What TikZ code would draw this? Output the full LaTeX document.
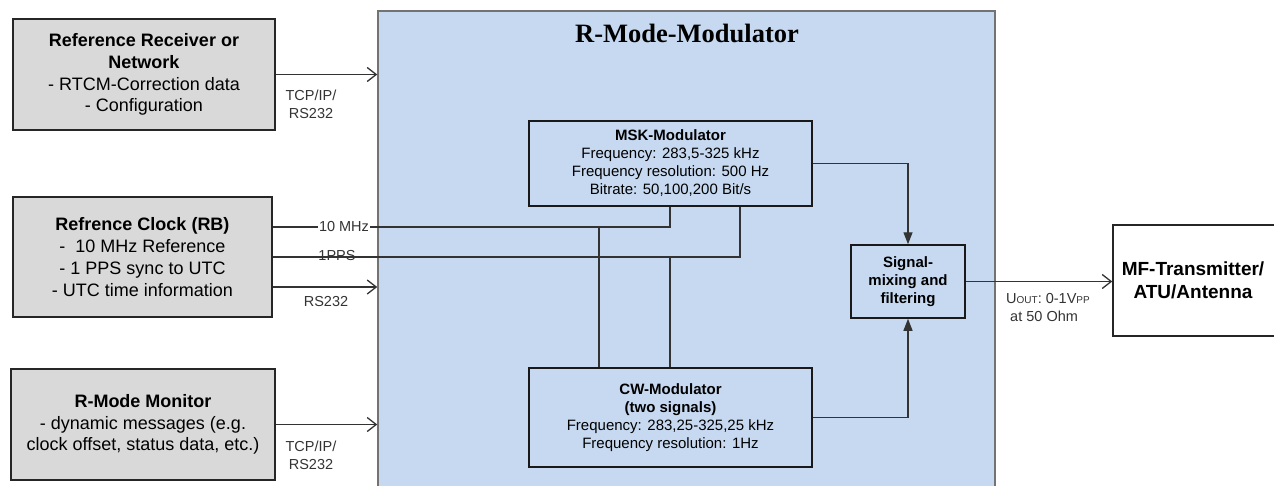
\documentclass[tikz,border=0pt]{standalone}
\usepackage{fontspec}
\setmainfont{Liberation Sans}
\newfontfamily\titlefont{Liberation Serif}
\usetikzlibrary{arrows.meta}
\definecolor{boxgray}{HTML}{D9D9D9}
\definecolor{modblue}{HTML}{C6D9F0}
\definecolor{linegray}{HTML}{333333}
\begin{document}
\begin{tikzpicture}[x=1pt,y=-1pt,
  big/.style={font=\fontsize{18}{21.8}\selectfont},
  mid/.style={font=\fontsize{15}{18}\selectfont},
  lab/.style={font=\fontsize{14.5}{18}\selectfont, text=black!80, align=center, inner sep=1pt},
  graybox/.style={draw=black!85, line width=1.5pt, fill=boxgray, align=center, big, inner sep=0pt},
  bluebox/.style={draw=black!90, line width=1.5pt, fill=modblue, align=center, mid, inner sep=0pt},
  conn/.style={draw=linegray, line width=1.3pt},
  openarrow/.style={conn, -{Straight Barb[length=9pt,width=14pt,line width=1.3pt]}},
  solidarrow/.style={conn, -{Triangle[length=12pt,width=9pt]}}
]
\useasboundingbox (0,0) rectangle (1274,485);

% main modulator area
\node[draw=black!55, line width=1.5pt, fill=modblue, minimum width=617pt, minimum height=509pt, inner sep=0pt] (mod) at (686.5,265.5) {};
\node[font=\titlefont\bfseries\fontsize{26.5}{30}\selectfont] (title) at (687,33) {R-Mode-Modulator};

% left boxes
\node[graybox, minimum width=262pt, minimum height=111pt] (recv) at (144,74.5)
  {\textbf{Reference Receiver or}\\\textbf{Network}\\- RTCM-Correction data\\- Configuration};
\node[graybox, minimum width=259pt, minimum height=120pt] (clock) at (142.5,257)
  {\textbf{Refrence Clock (RB)}\\-\ \ 10 MHz Reference\\- 1 PPS sync to UTC\\- UTC time information};
\node[graybox, minimum width=264pt, minimum height=111pt] (mon) at (143,424.5)
  {\textbf{R-Mode Monitor}\\- dynamic messages (e.g.\\clock offset, status data, etc.)};

% inner boxes
\node[bluebox, minimum width=283pt, minimum height=85pt] (msk) at (670.5,163.5)
  {\textbf{MSK-Modulator}\\Frequency: 283,5-325 kHz\\Frequency resolution: 500 Hz\\Bitrate: 50,100,200 Bit/s};
\node[bluebox, minimum width=283pt, minimum height=99pt] (cw) at (670.5,417.5)
  {\textbf{CW-Modulator}\\\textbf{(two signals)}\\Frequency: 283,25-325,25 kHz\\Frequency resolution: 1Hz};
\node[bluebox, minimum width=114pt, minimum height=73pt] (mix) at (908,281.5)
  {\textbf{Signal-}\\\textbf{mixing and}\\\textbf{filtering}};

% output box
\node[draw=black!85, line width=1.5pt, fill=white, minimum width=180pt, minimum height=111pt, inner sep=0pt] (mf) at (1203,280.5) {};
\node[font=\bfseries\fontsize{19}{23}\selectfont, align=center] (mftext) at (1193,280.5) {MF-Transmitter/\\ATU/Antenna};

% inputs
\draw[openarrow] (recv.east) -- (recv.east -| mod.west);
\node[lab] (l1) at (311,104) {TCP/IP/\\RS232};

\coordinate (y10) at (0,227);
\coordinate (j10) at (599,227);
\coordinate (k10) at (670,227);
\coordinate (jp) at (670,257);
\coordinate (kp) at (740,257);
\coordinate (yrs) at (0,287);

\draw[conn] (clock.east |- y10) -- (k10) -- (k10 |- msk.south);
\draw[conn] (j10) -- (j10 |- cw.north);
\node[lab, fill=white] (l10) at (344,227) {10 MHz};
\draw[conn] (clock.east |- jp) -- (kp) -- (kp |- msk.south);
\draw[conn] (jp) -- (jp |- cw.north);
\node[lab] (lpps) at (337,256) {1PPS};
\draw[openarrow] (clock.east |- yrs) -- (yrs -| mod.west);
\node[lab] (lrs) at (326,302) {RS232};

\draw[openarrow] (mon.east) -- (mon.east -| mod.west);
\node[lab] (l3) at (311,455) {TCP/IP/\\RS232};

% to mixer
\draw[solidarrow] (msk.east) -- (msk.east -| mix.north) -- (mix.north);
\draw[solidarrow] (cw.east) -- (cw.east -| mix.south) -- (mix.south);

% output
\draw[openarrow] (mix.east) -- (mix.east -| mf.west);
\node[lab, align=left] (lout) at (1048,308)
  {U{\fontsize{10}{10}\selectfont OUT}: 0-1V{\fontsize{10}{10}\selectfont PP}\\\ at 50 Ohm};
\end{tikzpicture}
\end{document}
